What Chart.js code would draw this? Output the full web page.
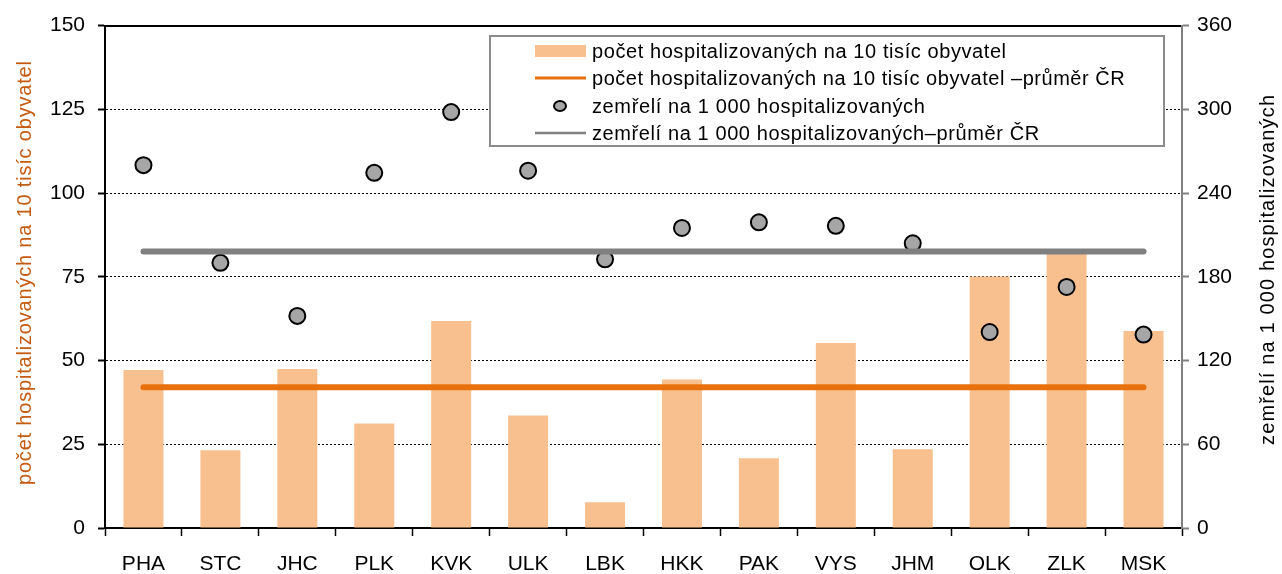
<!DOCTYPE html>
<html><head><meta charset="utf-8">
<script src="https://cdn.jsdelivr.net/npm/chart.js@4.4.1/dist/chart.umd.min.js"></script>
<style>html,body{margin:0;padding:0;background:#fff}#wrap{width:1282px;height:574px}</style>
</head><body><div id="wrap"><canvas id="c" width="1282" height="574"></canvas></div>
<script>
const categories = ['PHA','STC','JHC','PLK','KVK','ULK','LBK','HKK','PAK','VYS','JHM','OLK','ZLK','MSK'];
const hospitalized = [47.2,23.2,47.5,31.2,61.8,33.6,7.7,44.3,20.8,55.2,23.5,75.1,82.5,58.8];
const hospitalizedAvg = [42,42,42,42,42,42,42,42,42,42,42,42,42,42];
const deaths = [260,190,152,254.5,298,256,192.5,215,219,216.5,204,140.4,172.7,138.6];
const deathsAvg = [198.2,198.2,198.2,198.2,198.2,198.2,198.2,198.2,198.2,198.2,198.2,198.2,198.2,198.2];
const leftTicks = [0,25,50,75,100,125,150];
const rightTicks = [0,60,120,180,240,300,360];
const seriesNames = [
  'počet hospitalizovaných na 10 tisíc obyvatel',
  'počet hospitalizovaných na 10 tisíc obyvatel –průměr ČR',
  'zemřelí na 1 000 hospitalizovaných',
  'zemřelí na 1 000 hospitalizovaných–průměr ČR'
];
const leftTitle = 'počet hospitalizovaných na 10 tisíc obyvatel';
const rightTitle = 'zemřelí na 1 000 hospitalizovaných';

const FONT = "'Liberation Sans', Arial, sans-serif";
const BAR = '#F9C08F', ORANGE = '#E8710E', GRAY = '#808080', DOT = '#A6A6A6';

function fitText(ctx, text, x, y, target) {
  ctx.letterSpacing = '0px';
  const w = ctx.measureText(text).width;
  const ls = (target - w) / Math.max(1, text.length - 1);
  ctx.letterSpacing = ls.toFixed(2) + 'px';
  ctx.fillText(text, x, y);
  ctx.letterSpacing = '0px';
}

const decorPlugin = {
  id: 'decor',
  afterDraw(chart) {
    const ctx = chart.ctx;
    ctx.save();
    ctx.textAlign = 'left';
    ctx.textBaseline = 'middle';
    ctx.font = '20px ' + FONT;
    ctx.save();
    ctx.translate(25, 485);
    ctx.rotate(-Math.PI / 2);
    ctx.fillStyle = '#C55A11';
    fitText(ctx, leftTitle, 0, 0, 424);
    ctx.restore();
    ctx.save();
    ctx.translate(1268, 445);
    ctx.rotate(-Math.PI / 2);
    ctx.fillStyle = '#000';
    fitText(ctx, rightTitle, 0, 0, 350);
    ctx.restore();

    // legend box
    ctx.fillStyle = '#fff';
    ctx.fillRect(490, 36, 674, 110);
    ctx.strokeStyle = '#8C8C8C';
    ctx.lineWidth = 2;
    ctx.strokeRect(490, 36, 674, 110);
    const rows = [51, 78, 106, 133];
    const tx = 592;
    ctx.fillStyle = BAR;
    ctx.fillRect(535, rows[0] - 6, 51, 12);
    ctx.strokeStyle = ORANGE; ctx.lineWidth = 3;
    ctx.beginPath(); ctx.moveTo(535, rows[1]); ctx.lineTo(586, rows[1]); ctx.stroke();
    ctx.fillStyle = DOT; ctx.strokeStyle = '#000'; ctx.lineWidth = 2;
    ctx.beginPath(); ctx.ellipse(560, rows[2], 6, 5, 0, 0, Math.PI * 2); ctx.fill(); ctx.stroke();
    ctx.strokeStyle = GRAY; ctx.lineWidth = 2.5;
    ctx.beginPath(); ctx.moveTo(535, rows[3]); ctx.lineTo(586, rows[3]); ctx.stroke();
    ctx.fillStyle = '#000';
    ctx.font = '20px ' + FONT;
    const targets = [414, 533, 333, 447];
    seriesNames.forEach((t, i) => fitText(ctx, t, tx, rows[i] + 1, targets[i]));
    ctx.restore();
  }
};

new Chart(document.getElementById('c'), {
  type: 'bar',
  data: {
    labels: categories,
    datasets: [
      { type: 'bar', label: seriesNames[0], data: hospitalized, backgroundColor: BAR, borderWidth: 0,
        barPercentage: 0.52, categoryPercentage: 1, yAxisID: 'y', order: 4 },
      { type: 'line', label: seriesNames[2], data: deaths, showLine: false, pointRadius: 8,
        pointBorderWidth: 2, pointBackgroundColor: DOT, pointBorderColor: '#000', yAxisID: 'y2', order: 3 },
      { type: 'line', label: seriesNames[1], data: hospitalizedAvg, borderColor: ORANGE, borderWidth: 6,
        borderCapStyle: 'round', pointRadius: 0, yAxisID: 'y', order: 2 },
      { type: 'line', label: seriesNames[3], data: deathsAvg, borderColor: GRAY, borderWidth: 6,
        borderCapStyle: 'round', pointRadius: 0, yAxisID: 'y2', order: 1 }
    ]
  },
  options: {
    responsive: false,
    animation: false,
    events: [],
    layout: { padding: 0 },
    plugins: { legend: { display: false }, tooltip: { enabled: false } },
    scales: {
      x: {
        position: 'bottom', offset: true,
        grid: { display: true, offset: true, drawOnChartArea: false, drawTicks: true, tickLength: 8, tickColor: '#000', tickWidth: 1.5 },
        border: { display: true, color: '#000', width: 2 },
        ticks: { color: '#000', font: { family: FONT, size: 21 }, padding: 16, maxRotation: 0, autoSkip: false },
        afterFit(s) { s.height = 46; }
      },
      xTop: {
        type: 'category', position: 'top', offset: true,
        grid: { display: false }, ticks: { display: false },
        border: { display: true, color: '#000', width: 2 },
        afterFit(s) { s.height = 23; }
      },
      y: {
        position: 'left', min: 0, max: 150,
        afterBuildTicks(s) { s.ticks = leftTicks.map(v => ({ value: v })); },
        ticks: { color: '#000', font: { family: FONT, size: 21 }, padding: 13 },
        grid: {
          color: c => (c.tick && (c.tick.value === 0 || c.tick.value === 150)) ? 'rgba(0,0,0,0)' : '#000',
          lineWidth: 1, tickColor: '#000', tickLength: 7, tickWidth: 2
        },
        border: { display: true, color: '#000', width: 2, dash: [2, 2] },
        afterFit(s) { s.width = 105; }
      },
      y2: {
        position: 'right', min: 0, max: 360,
        afterBuildTicks(s) { s.ticks = rightTicks.map(v => ({ value: v })); },
        ticks: { color: '#000', font: { family: FONT, size: 21 }, padding: 8 },
        grid: { drawOnChartArea: false, tickColor: GRAY, tickLength: 7, tickWidth: 2 },
        border: { display: true, color: GRAY, width: 2 },
        afterFit(s) { s.width = 100; }
      }
    }
  },
  plugins: [decorPlugin]
});
</script>
</body></html>
